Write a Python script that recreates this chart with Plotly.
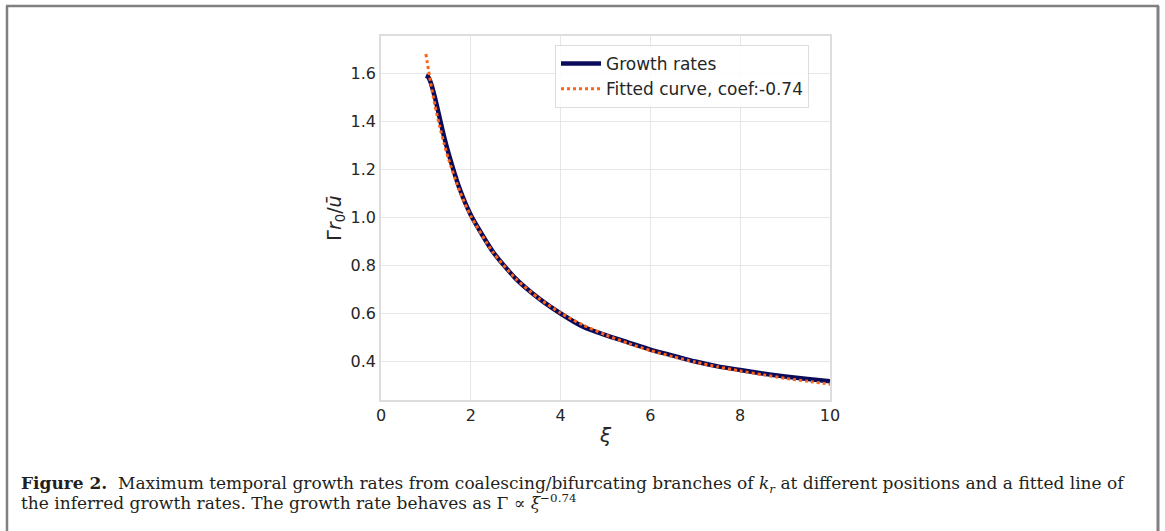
import plotly.graph_objects as go

# Data
xi_growth = [1.0, 1.05, 1.1, 1.2, 1.3, 1.4, 1.5, 1.75, 2.0, 2.5, 3.0, 3.5, 4.0, 4.5, 5.0,
             5.5, 6.0, 6.5, 7.0, 7.5, 8.0, 8.5, 9.0, 9.5, 10.0]
growth_rates = [1.59, 1.585, 1.565, 1.50, 1.42, 1.34, 1.27, 1.12, 1.01, 0.855, 0.745, 0.665,
                0.60, 0.545, 0.51, 0.48, 0.45, 0.425, 0.40, 0.38, 0.365, 0.35, 0.338, 0.327, 0.318]

xi_fit = [1.0, 1.1, 1.2, 1.3, 1.4, 1.5, 1.75, 2.0, 2.5, 3.0, 3.5, 4.0, 4.5, 5.0,
          5.5, 6.0, 6.5, 7.0, 7.5, 8.0, 8.5, 9.0, 9.5, 10.0]
fitted = [1.68, 1.566, 1.468, 1.384, 1.31, 1.245, 1.11, 1.006, 0.853, 0.745, 0.665, 0.602,
          0.552, 0.511, 0.476, 0.446, 0.42, 0.398, 0.378, 0.361, 0.345, 0.33, 0.318, 0.306]

x_ticks = [0, 2, 4, 6, 8, 10]
y_ticks = [0.4, 0.6, 0.8, 1.0, 1.2, 1.4, 1.6]

W, H = 1165, 531
L, R, T, B = 381, 830, 36, 400
pw, ph = R - L, B - T


def px(p):
    return (p - L) / pw


def py(p):
    return (B - p) / ph


fig = go.Figure()
fig.add_trace(go.Scatter(x=xi_growth, y=growth_rates, mode="lines", name="Growth rates",
                         line=dict(color="#0b0b5c", width=4.5, shape="spline", smoothing=0.6)))
fig.add_trace(go.Scatter(x=xi_fit, y=fitted, mode="lines", name="Fitted curve, coef:-0.74",
                         line=dict(color="#ff6416", width=3, dash="dot", shape="spline", smoothing=0.6)))

axis_common = dict(showgrid=True, gridcolor="#e6e6e6", gridwidth=1, zeroline=False,
                   showline=True, linecolor="#dddddd", linewidth=1.5, mirror=True,
                   ticks="", tickfont=dict(family="DejaVu Sans", size=16, color="#262626"))

fig.update_xaxes(range=[0, 10], tickvals=x_ticks, ticktext=[str(v) for v in x_ticks],
                 title=dict(text="<i>ξ</i>", font=dict(family="DejaVu Sans", size=20, color="#262626"),
                            standoff=4),
                 **axis_common)
fig.update_yaxes(range=[0.24, 1.755], tickvals=y_ticks, ticktext=[f"{v:.1f}" for v in y_ticks],
                 title=dict(text="Γ<i>r</i><sub>0</sub>/<i>ū</i>",
                            font=dict(family="DejaVu Sans", size=19, color="#262626"), standoff=4),
                 **axis_common)

shapes = [
    dict(type="line", xref="paper", yref="paper", x0=px(7), x1=px(7), y0=py(6), y1=py(540),
         line=dict(color="#808080", width=2.5)),
    dict(type="line", xref="paper", yref="paper", x0=px(6), x1=px(1159), y0=py(6), y1=py(6),
         line=dict(color="#808080", width=2.5)),
    dict(type="line", xref="paper", yref="paper", x0=px(1158), x1=px(1158), y0=py(6), y1=py(540),
         line=dict(color="#808080", width=3)),
]

cap_font = dict(family="DejaVu Serif", size=17, color="#231f20")
annotations = [
    dict(xref="paper", yref="paper", x=px(19), y=py(484), xanchor="left", yanchor="middle",
         showarrow=False, align="left",
         text="<b>Figure 2.</b>  Maximum temporal growth rates from coalescing/bifurcating branches of "
              "<i>k<sub>r</sub></i> at different positions and a fitted line of",
         font=cap_font),
    dict(xref="paper", yref="paper", x=px(19), y=py(502), xanchor="left", yanchor="middle",
         showarrow=False, align="left",
         text="the inferred growth rates. The growth rate behaves as Γ ∝ <i>ξ</i><sup>−0.74</sup>",
         font=cap_font),
]

fig.update_layout(
    width=W, height=H,
    margin=dict(l=L, r=W - R, t=T, b=H - B, pad=0),
    paper_bgcolor="white", plot_bgcolor="white",
    shapes=shapes, annotations=annotations,
    showlegend=True,
    legend=dict(x=px(555), y=py(45), xanchor="left", yanchor="top",
                bgcolor="rgba(255,255,255,0.85)", bordercolor="#dddddd", borderwidth=1,
                font=dict(family="DejaVu Sans", size=17, color="#262626"),
                itemwidth=40, tracegroupgap=2),
)

fig.write_html("out.html")
